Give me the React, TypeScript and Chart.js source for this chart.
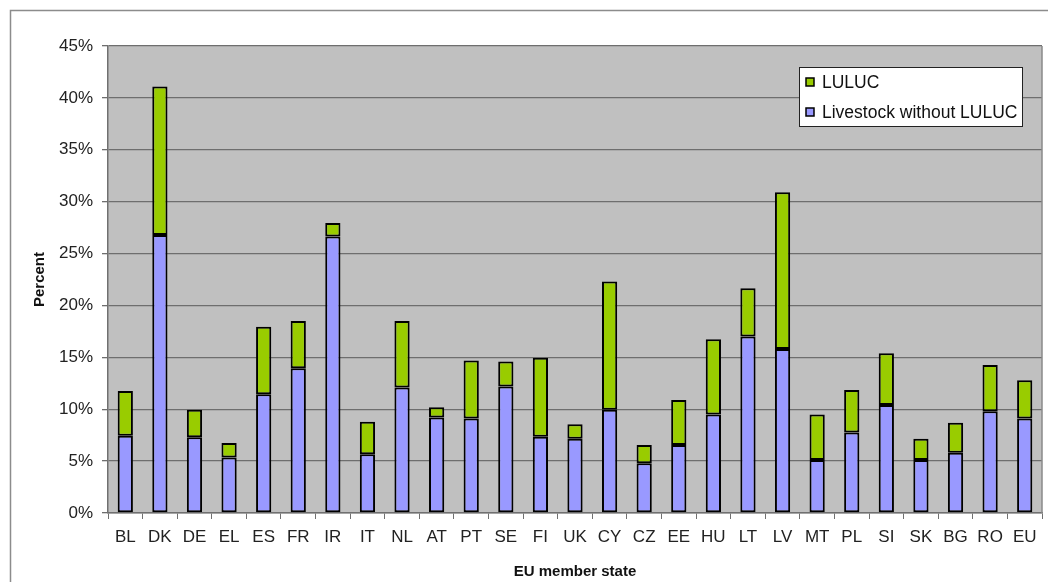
import React, { useEffect, useRef } from "react";
import { Chart, registerables } from "chart.js";

Chart.register(...registerables);

const categories = [
  "BL", "DK", "DE", "EL", "ES", "FR", "IR", "IT", "NL", "AT", "PT", "SE", "FI", "UK",
  "CY", "CZ", "EE", "HU", "LT", "LV", "MT", "PL", "SI", "SK", "BG", "RO", "EU",
];

const livestock = [
  7.45, 26.8, 7.3, 5.35, 11.45, 13.95, 26.65, 5.65, 12.1, 9.2, 9.1, 12.2, 7.35, 7.15,
  9.95, 4.8, 6.55, 9.5, 17.0, 15.8, 5.1, 7.75, 10.4, 5.1, 5.8, 9.8, 9.1,
];

const luluc = [
  4.3, 14.3, 2.65, 1.4, 6.5, 4.55, 1.3, 3.15, 6.4, 1.0, 5.6, 2.4, 7.6, 1.4,
  12.35, 1.75, 4.35, 7.25, 4.65, 15.1, 4.4, 4.1, 5.0, 2.05, 2.9, 4.45, 3.7,
];

const yMin = 0;
const yMax = 45;
const yStep = 5;

const labelLuluc = "LULUC";
const labelLivestock = "Livestock without LULUC";
const xTitle = "EU member state";
const yTitle = "Percent";

const FONT = '"Liberation Sans", Arial, sans-serif';

const framePlugin = {
  id: "frameBg",
  beforeDraw(chart: any) {
    const { ctx, chartArea } = chart;
    ctx.save();
    ctx.fillStyle = "#ffffff";
    ctx.fillRect(0, 0, chart.width, chart.height);
    ctx.strokeStyle = "#8c8c8c";
    ctx.lineWidth = 1.5;
    ctx.strokeRect(10.5, 10.5, chart.width + 40, chart.height + 40);
    ctx.fillStyle = "#c0c0c0";
    ctx.fillRect(
      chartArea.left,
      chartArea.top,
      chartArea.right - chartArea.left,
      chartArea.bottom - chartArea.top
    );
    ctx.restore();
  },
  afterDatasetsDraw(chart: any) {
    const { ctx, chartArea } = chart;
    ctx.save();
    ctx.strokeStyle = "#8a8a8a";
    ctx.lineWidth = 1.5;
    ctx.beginPath();
    ctx.moveTo(chartArea.right, chartArea.top);
    ctx.lineTo(chartArea.right, chartArea.bottom);
    ctx.stroke();
    ctx.restore();
  },
};

const legendPlugin = {
  id: "boxLegend",
  afterDraw(chart: any) {
    const { ctx, chartArea } = chart;
    const w = 223;
    const h = 59;
    const x0 = chartArea.right - 20 - w;
    const y0 = chartArea.top + 21;
    ctx.save();
    ctx.fillStyle = "#ffffff";
    ctx.fillRect(x0, y0, w, h);
    ctx.strokeStyle = "#222";
    ctx.lineWidth = 1;
    ctx.strokeRect(x0 + 0.5, y0 + 0.5, w, h);
    const items = [chart.data.datasets[1], chart.data.datasets[0]];
    items.forEach((ds: any, i: number) => {
      const cy = y0 + 15 + i * 30;
      ctx.fillStyle = ds.backgroundColor;
      ctx.fillRect(x0 + 7, cy - 4, 8, 8);
      ctx.strokeStyle = "#000";
      ctx.lineWidth = 1.5;
      ctx.strokeRect(x0 + 7, cy - 4, 8, 8);
      ctx.fillStyle = "#111";
      ctx.font = `17.5px ${FONT}`;
      ctx.textBaseline = "middle";
      ctx.textAlign = "left";
      ctx.fillText(ds.label, x0 + 23, cy + 1);
    });
    ctx.restore();
  },
};

export default function App() {
  const ref = useRef<HTMLCanvasElement | null>(null);

  useEffect(() => {
    if (!ref.current) return;
    const chart = new Chart(ref.current, {
      type: "bar",
      data: {
        labels: categories,
        datasets: [
          {
            label: labelLivestock,
            data: livestock,
            backgroundColor: "#9999ff",
            borderColor: "#000000",
            borderWidth: 2,
            borderSkipped: false,
          },
          {
            label: labelLuluc,
            data: luluc,
            backgroundColor: "#99cc00",
            borderColor: "#000000",
            borderWidth: 2,
            borderSkipped: false,
          },
        ],
      },
      options: {
        responsive: false,
        animation: false,
        devicePixelRatio: 1,
        layout: { padding: { left: 0, top: 46, right: 6, bottom: 0 } },
        datasets: {
          bar: { categoryPercentage: 1, barPercentage: 0.44 },
        },
        plugins: {
          legend: { display: false },
          tooltip: { enabled: false },
        },
        scales: {
          x: {
            stacked: true,
            afterFit(scale: any) {
              scale.height = 69;
            },
            grid: {
              display: true,
              drawOnChartArea: false,
              drawTicks: true,
              tickLength: 6,
              color: "#707070",
              lineWidth: 1,
              offset: true,
            },
            border: { display: true, color: "#707070", width: 1.5 },
            ticks: {
              color: "#222",
              font: { family: FONT, size: 17 },
              padding: 8,
              maxRotation: 0,
              autoSkip: false,
            },
            title: {
              display: true,
              text: xTitle,
              color: "#111",
              font: { family: FONT, size: 15, weight: "bold" },
              padding: { top: 0, bottom: 1 },
            },
          },
          y: {
            stacked: true,
            min: yMin,
            max: yMax,
            afterFit(scale: any) {
              scale.width = 108;
            },
            grid: {
              color: "#6e6e6e",
              lineWidth: 1.3,
              drawTicks: true,
              tickLength: 6,
            },
            border: { display: true, color: "#707070", width: 1.5 },
            ticks: {
              stepSize: yStep,
              color: "#222",
              font: { family: FONT, size: 17 },
              padding: 9,
              callback: (v: any) => `${v}%`,
            },
            title: {
              display: true,
              text: yTitle,
              color: "#111",
              font: { family: FONT, size: 15, weight: "bold" },
              padding: { top: 31, bottom: 0 },
            },
          },
        },
      },
      plugins: [framePlugin, legendPlugin],
    } as any);
    return () => chart.destroy();
  }, []);

  return (
    <div style={{ position: "absolute", left: 0, top: 0, width: 1048, height: 582 }}>
      <canvas ref={ref} width={1048} height={582} style={{ display: "block" }} />
    </div>
  );
}
